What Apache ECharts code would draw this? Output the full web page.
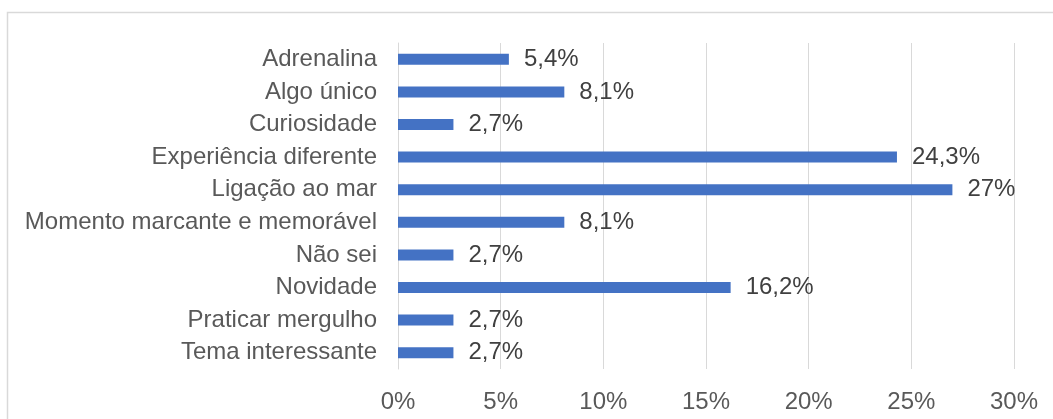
<!DOCTYPE html>
<html>
<head>
<meta charset="utf-8">
<script src="https://cdn.jsdelivr.net/npm/echarts@6/dist/echarts.min.js"></script>
<style>
  html, body { margin: 0; padding: 0; background: #fff; }
  #chart { width: 1053px; height: 419px; }
</style>
</head>
<body>
<div id="chart"></div>
<script>
// categories, top to bottom
var categories = ['Adrenalina', 'Algo único', 'Curiosidade', 'Experiência diferente', 'Ligação ao mar',
  'Momento marcante e memorável', 'Não sei', 'Novidade', 'Praticar mergulho', 'Tema interessante'];
// percentages
var values = [5.4, 8.1, 2.7, 24.3, 27, 8.1, 2.7, 16.2, 2.7, 2.7];
var xTicks = [0, 5, 10, 15, 20, 25, 30];

var font = '"Liberation Sans", Arial, sans-serif';
var chart = echarts.init(document.getElementById('chart'));

chart.setOption({
  animation: false,
  textStyle: { fontFamily: font },
  grid: { left: 398, right: 39, top: 43, bottom: 50 },
  graphic: [{
    type: 'rect',
    shape: { x: 7.5, y: 12.5, width: 1100, height: 500 },
    style: { fill: 'none', stroke: '#d9d9d9', lineWidth: 1.5 },
    silent: true
  }],
  xAxis: {
    type: 'value',
    min: xTicks[0],
    max: xTicks[xTicks.length - 1],
    interval: 5,
    axisLine: { show: false },
    axisTick: { show: false },
    splitLine: { show: true, lineStyle: { color: '#d9d9d9', width: 1 } },
    axisLabel: {
      formatter: '{value}%',
      color: '#595959',
      fontSize: 24,
      fontFamily: font,
      margin: 21
    }
  },
  yAxis: {
    type: 'category',
    inverse: true,
    data: categories,
    axisLine: { show: true, lineStyle: { color: '#d9d9d9', width: 1 } },
    axisTick: { show: false },
    axisLabel: {
      color: '#595959',
      fontSize: 24,
      fontFamily: font,
      margin: 21
    }
  },
  series: [{
    type: 'bar',
    data: values,
    barWidth: 11,
    itemStyle: { color: '#4472C4' },
    label: {
      show: true,
      position: 'right',
      distance: 15,
      color: '#404040',
      fontSize: 24,
      fontFamily: font,
      formatter: function (p) {
        return String(p.value).replace('.', ',') + '%';
      }
    }
  }]
});
</script>
</body>
</html>
